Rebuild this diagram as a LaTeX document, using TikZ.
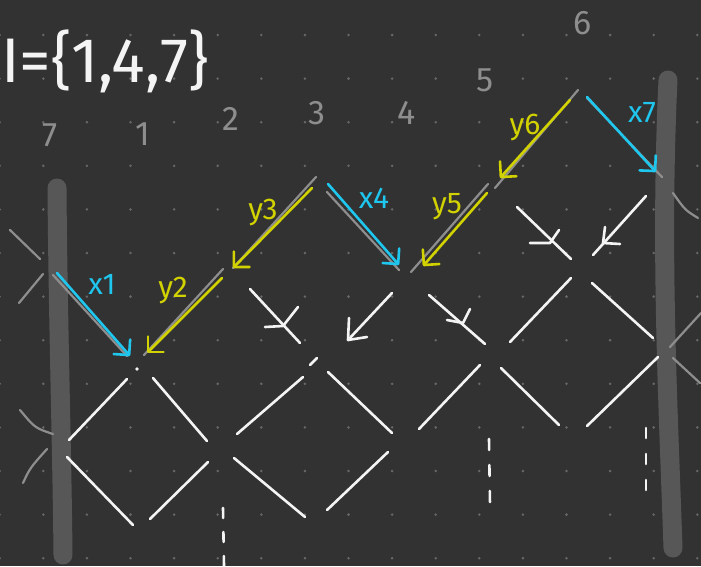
\documentclass[tikz,border=0pt]{standalone}
\usepackage{fontspec}
\setmainfont{Fira Sans}
\usepackage{tikz}
\usetikzlibrary{arrows.meta}
\definecolor{board}{HTML}{323232}
\definecolor{dotgray}{HTML}{686868}
\definecolor{bargray}{HTML}{575757}
\definecolor{pengray}{HTML}{8E8E8E}
\definecolor{chalkwhite}{HTML}{F4F4F4}
\definecolor{penblue}{HTML}{1FC6EE}
\definecolor{penyellow}{HTML}{D2D200}
\tikzset{
  griddot/.style={fill=dotgray},
  wall/.style={line width=19pt, line cap=round, draw=bargray},
  strand/.style={line width=2.2pt, line cap=round, draw=pengray},
  chalk/.style={line width=2.6pt, line cap=round, line join=round, draw=chalkwhite},
  xpen/.style={line width=2.6pt, line cap=round, draw=penblue, -{Straight Barb[length=11pt,width=22pt,round]}},
  ypen/.style={line width=2.6pt, line cap=round, draw=penyellow, -{Straight Barb[length=11pt,width=22pt,round]}},
  idxtext/.style={text=pengray, font=\fontsize{34}{34}\selectfont, inner sep=0pt},
  pentext/.style={font=\fontsize{30}{30}\selectfont, inner sep=0pt},
}

\begin{document}
\begin{tikzpicture}[x=1pt, y=-1pt]
  \useasboundingbox (0,0) rectangle (701,566);
  \fill[board] (0,0) rectangle (701,566);
  % Punktraster
  \foreach \i in {0,...,16}{
    \foreach \j in {0,...,12}{
      \fill[griddot] (43.6*\i-0.3, 35+43.6*\j) circle[radius=1.4pt];
    }
  }
  % Randwaende
  \draw[wall] (57,188) .. controls (58,320) and (62,450) .. (63,555);
  \draw[wall] (668,80) .. controls (660,250) and (668,400) .. (673,548);
  % Titel und Indizes
  \node[text=chalkwhite, font=\fontsize{63}{63}\selectfont, anchor=base west, inner sep=0pt] (title) at (1,82) {I=\{1,4,7\}};
  \foreach \t/\px/\py in {7/50/135, 1/143/134, 2/231/119, 3/317/113, 4/407/113, 5/485/80, 6/583/23}{
    \node[idxtext] (idx\t) at (\px,\py) {\t};
  }
  % graue Zickzacklinie
  \foreach \xa/\ya/\xb/\yb in {53/275/127/356, 144/355/223/269, 233/268/316/177, 327/192/399/270,
      488/184/411/272, 578/90/495/188, 587/98/662/177}{
    \draw[strand] (\xa,\ya) -- (\xb,\yb);
  }
  % abgeschnittene Straenge an den Waenden
  \draw[strand] (10,230) -- (40,259);
  \draw[strand] (43,274) -- (19,303);
  \draw[strand] (20,410) .. controls (35,428) .. (53,434);
  \draw[strand] (47,449) .. controls (30,468) .. (23,483);
  \draw[strand] (673,193) .. controls (685,210) .. (698,218);
  \draw[strand] (701,313) -- (670,347);
  \draw[strand] (673,358) -- (700,383);
  % x- und y-Schritte
  \draw[xpen] (57,273) -- (130,356);
  \draw[ypen] (222,278) -- (147,353);
  \draw[ypen] (312,188) -- (233,268);
  \draw[xpen] (328,184) -- (399,265);
  \draw[ypen] (487,193) -- (423,266);
  \draw[ypen] (570,100) -- (500,178);
  \draw[xpen] (587,97) -- (656,172);
  \foreach \t/\c/\px/\py in {x1/penblue/102/284, y2/penyellow/173/291, y3/penyellow/263/213,
      x4/penblue/374/198, y5/penyellow/447/207, y6/penyellow/525/128, x7/penblue/642/113}{
    \node[pentext, text=\c] (lbl\t) at (\px,\py) {\t};
  }
  % weisses Gitter
  \foreach \xa/\ya/\xb/\yb in {510/342/571/278, 592/283/653/338,
      127/379/69/440, 153/378/207/441, 237/434/303/377, 328/372/392/433,
      419/429/480/365, 501/368/559/425, 587/426/658/357,
      67/457/133/525, 150/519/208/462, 234/458/305/517, 327/510/388/452}{
    \draw[chalk] (\xa,\ya) -- (\xb,\yb);
  }
  % Pfeilmarken
  \draw[chalk] (250,289) -- (300,343);
  \draw[chalk] (265,327) -- (283,326) -- (298,307);
  \draw[chalk] (392,293) -- (348,340);
  \draw[chalk] (349,318) -- (348,340) -- (367,337);
  \draw[chalk] (429,295) -- (485,344);
  \draw[chalk] (447,320) -- (463,323) -- (470,309);
  \draw[chalk] (517,207) -- (571,259);
  \draw[chalk] (530,243) -- (550,243) -- (559,230);
  \draw[chalk] (646,196) -- (593,255);
  \draw[chalk] (605,227) -- (603,243) -- (620,244);
  \fill[chalkwhite] (137,369) circle[radius=1.8pt];
  \draw[chalk] (310,365) -- (317,358);
  % gestrichelte Fortsetzungen
  \draw[chalk, dash pattern=on 10pt off 14pt] (223,508) -- (224,566);
  \draw[chalk, dash pattern=on 11pt off 15pt] (489,439) -- (490,505);
  \draw[chalk, dash pattern=on 10pt off 16pt] (646,428) -- (646,502);
\end{tikzpicture}
\end{document}
